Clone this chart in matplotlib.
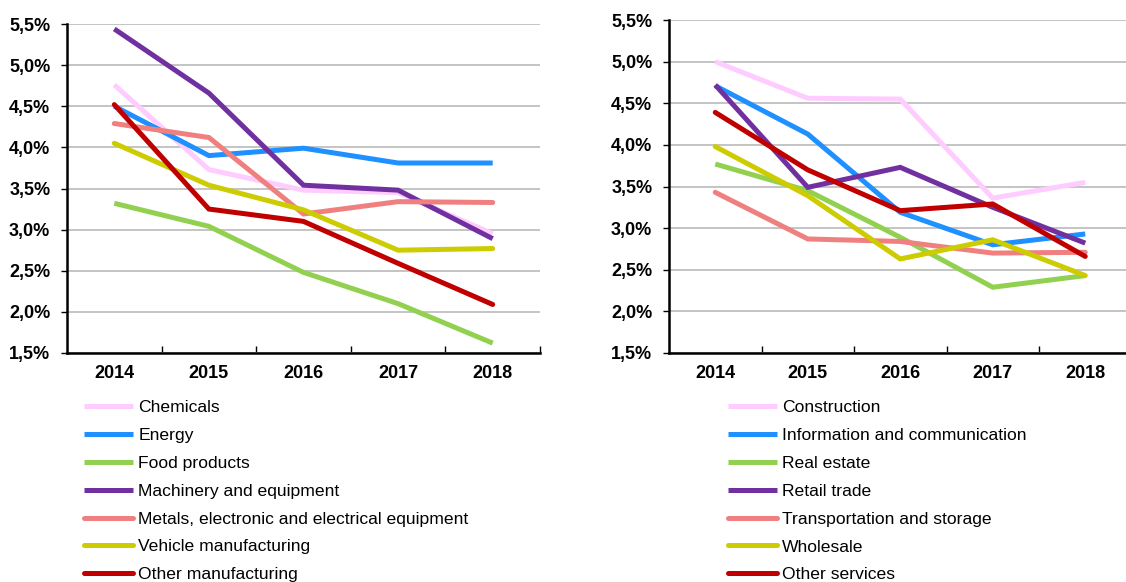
import numpy as np
import matplotlib.pyplot as plt
from matplotlib.ticker import FuncFormatter, FixedLocator

plt.rcParams['font.family'] = ['Liberation Sans', 'DejaVu Sans']

years = ['2014', '2015', '2016', '2017', '2018']

# left panel: industry
ind_names = ['Chemicals', 'Energy', 'Food products', 'Machinery and equipment',
             'Metals, electronic and electrical equipment', 'Vehicle manufacturing',
             'Other manufacturing']
chemicals = [4.76, 3.73, 3.48, 3.45, 2.95]
energy = [4.50, 3.90, 3.99, 3.81, 3.81]
food = [3.32, 3.04, 2.48, 2.10, 1.62]
machinery = [5.44, 4.66, 3.54, 3.48, 2.89]
metals = [4.29, 4.12, 3.19, 3.34, 3.33]
vehicle = [4.05, 3.54, 3.24, 2.75, 2.77]
other_manuf = [4.52, 3.25, 3.10, 2.59, 2.09]

# right panel: services
srv_names = ['Construction', 'Information and communication', 'Real estate',
             'Retail trade', 'Transportation and storage', 'Wholesale',
             'Other services']
construction = [5.00, 4.56, 4.55, 3.36, 3.55]
info_comm = [4.71, 4.13, 3.19, 2.80, 2.93]
real_estate = [3.77, 3.45, 2.89, 2.29, 2.43]
retail = [4.72, 3.49, 3.73, 3.25, 2.82]
transport = [3.43, 2.87, 2.84, 2.70, 2.71]
wholesale = [3.98, 3.39, 2.63, 2.86, 2.43]
other_srv = [4.39, 3.70, 3.21, 3.29, 2.66]

colors = ['#FFCCFF', '#1E90FF', '#92D050', '#7030A0', '#F08080', '#CCCC00', '#C00000']
caps = ['butt', 'butt', 'butt', 'butt', 'round', 'round', 'round']

W, H = 1126, 582
fig = plt.figure(figsize=(W / 100, H / 100), dpi=100)


def setup(ax):
    x = np.arange(len(years))
    ax.set_xlim(-0.5, len(years) - 0.5)
    ax.set_ylim(1.5, 5.5)
    ax.set_yticks(np.arange(1.5, 5.51, 0.5))
    ax.yaxis.set_major_formatter(FuncFormatter(lambda v, p: f"{v:.1f}%".replace('.', ',')))
    ax.set_xticks(x)
    ax.set_xticklabels(years)
    ax.xaxis.set_minor_locator(FixedLocator(x + 0.5))
    ax.tick_params(axis='x', which='major', length=0, pad=9, labelsize=13)
    ax.tick_params(axis='x', which='minor', direction='in', length=5, width=1, color='black')
    ax.tick_params(axis='y', length=4, width=1, color='black', pad=8, labelsize=13)
    for lbl in ax.get_xticklabels() + ax.get_yticklabels():
        lbl.set_fontweight('bold')
    ax.grid(axis='y', color='#BFBFBF', lw=1.3)
    ax.set_axisbelow(True)
    for s in ['top', 'right']:
        ax.spines[s].set_visible(False)
    for s in ['left', 'bottom']:
        ax.spines[s].set_linewidth(1.8)


ax1 = fig.add_axes([67 / W, 1 - 353 / H, 473 / W, 329 / H])
ax2 = fig.add_axes([669 / W, 1 - 353 / H, 462.5 / W, 333 / H])

ind_series = [chemicals, energy, food, machinery, metals, vehicle, other_manuf]
srv_series = [construction, info_comm, real_estate, retail, transport, wholesale, other_srv]

for ax, names, series, lx in [(ax1, ind_names, ind_series, 84),
                              (ax2, srv_names, srv_series, 728)]:
    setup(ax)
    x = np.arange(len(years))
    for name, vals, c, cap in zip(names, series, colors, caps):
        ax.plot(x, vals, color=c, lw=3.6, label=name, solid_capstyle=cap,
                solid_joinstyle='miter')
    ax.legend(loc='upper left', bbox_to_anchor=(lx / W, 1 - 400 / H),
              bbox_transform=fig.transFigure, frameon=False, fontsize=12.6,
              handlelength=2.8, handletextpad=0.3, labelspacing=0.72,
              borderpad=0, borderaxespad=0)

fig.savefig('out.png', dpi=100)
